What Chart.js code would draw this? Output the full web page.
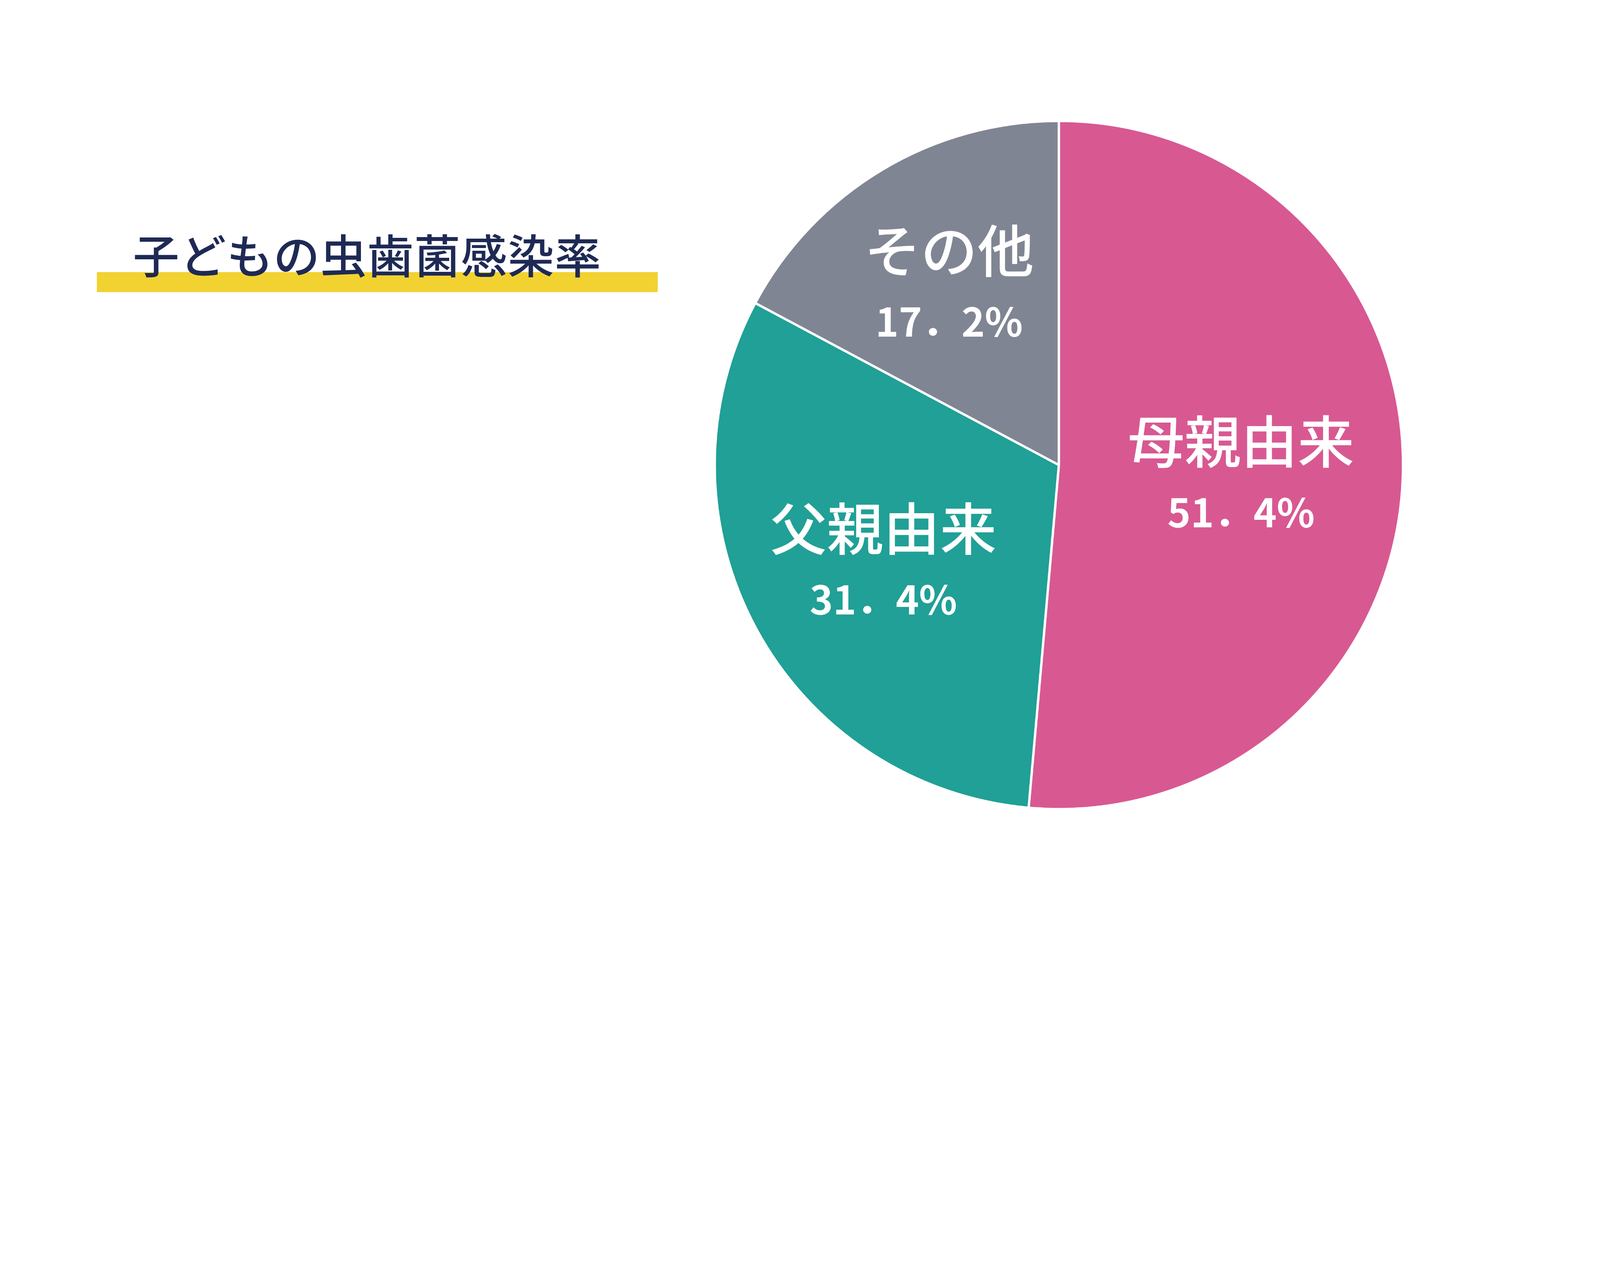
<!DOCTYPE html>
<html>
<head>
<meta charset="utf-8">
<script src="https://cdn.jsdelivr.net/npm/chart.js@4/dist/chart.umd.min.js"></script>
<style>
  html, body { margin: 0; background: #fff; overflow: hidden; }
  #wrap { position: absolute; left: 0; top: 0; width: 6079px; height: 3285px; transform-origin: 0 0; }
  #bar { position: absolute; left: 368px; top: 1034px; width: 2131px; height: 76px; background: #F2D230; }
  #titulo { position: absolute; left: 505px; top: 835px; font: 500 176px "Noto Sans CJK JP"; color: #1E2A55; letter-spacing: 2px; white-space: nowrap; }
  canvas { position: absolute; left: 0; top: 0; }
</style>
</head>
<body>
<div id="wrap">
  <div id="bar"></div>
  <div id="titulo">子どもの虫歯菌感染率</div>
  <canvas id="grafico" width="6079" height="3285"></canvas>
</div>
<script>
const categorias = ["母親由来", "父親由来", "その他"];
const valores = [51.4, 31.4, 17.2];
const rotulosValor = ["51．4%", "31．4%", "17．2%"];
const cores = ["#D85892", "#20A096", "#808593"];
const distRotulo = [0.53, 0.58, 0.62];

// ajusta o desenho de 6079x3285 ao tamanho real da janela
const escala = Math.min(window.innerWidth / 6079, window.innerHeight / 3285);
document.getElementById("wrap").style.transform = `scale(${escala})`;

// desenha os nomes e percentuais dentro de cada fatia
const pluginRotulos = {
  id: "rotulos",
  afterDatasetsDraw(chart) {
    const ctx = chart.ctx;
    const arcos = chart.getDatasetMeta(0).data;
    ctx.save();
    ctx.fillStyle = "#fff";
    ctx.textAlign = "center";
    ctx.textBaseline = "middle";
    arcos.forEach((arc, i) => {
      const meio = (arc.startAngle + arc.endAngle) / 2;
      const r = arc.outerRadius * distRotulo[i];
      const x = arc.x + Math.cos(meio) * r;
      const y = arc.y + Math.sin(meio) * r;
      ctx.font = "500 215px 'Noto Sans CJK JP'";
      ctx.fillText(categorias[i], x, y - 120);
      ctx.font = "bold 150px 'Noto Sans CJK JP'";
      ctx.fillText(rotulosValor[i], x, y + 150);
    });
    ctx.restore();
  }
};

new Chart(document.getElementById("grafico").getContext("2d"), {
  type: "pie",
  data: {
    labels: categorias,
    datasets: [{
      data: valores,
      backgroundColor: cores,
      borderColor: "#fff",
      borderWidth: 9
    }]
  },
  options: {
    responsive: false,
    devicePixelRatio: 1,
    animation: false,
    layout: { padding: { left: 2711, right: 744, top: 455, bottom: 206 } },
    plugins: { legend: { display: false }, tooltip: { enabled: false } }
  },
  plugins: [pluginRotulos]
});
</script>
</body>
</html>
